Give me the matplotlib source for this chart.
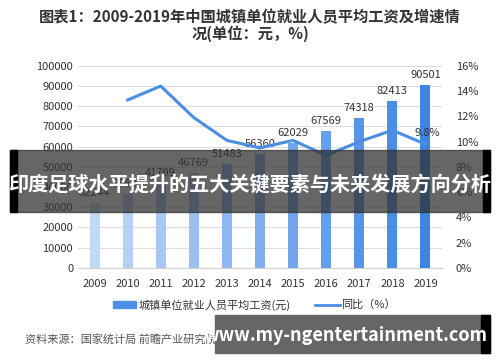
import numpy as np
import matplotlib.pyplot as plt
from matplotlib.patches import Rectangle

plt.rcParams['font.family'] = ['Noto Sans CJK SC', 'DejaVu Sans']

# 数据
anos = ['2009', '2010', '2011', '2012', '2013', '2014', '2015', '2016', '2017', '2018', '2019']
salario = [32244, 36539, 41799, 46769, 51483, 56360, 62029, 67569, 74318, 82413, 90501]
crescimento = [np.nan, 13.3, 14.4, 11.9, 10.1, 9.5, 10.1, 8.9, 10.0, 10.9, 9.8]

fig = plt.figure(figsize=(5, 3.62), dpi=100)
ax = fig.add_axes([0.156, 0.26, 0.728, 0.558])
ax2 = ax.twinx()

x = np.arange(len(anos))
cor_ini = np.array([0.76, 0.85, 0.97])
cor_fim = np.array([0.24, 0.52, 0.89])
cores = [cor_ini + (cor_fim - cor_ini) * i / (len(anos) - 1) for i in range(len(anos))]

ax.bar(x, salario, width=0.3, color=cores, zorder=2)
for xi, v in zip(x, salario):
    ax.text(xi, v + 2500, str(v), ha='center', va='bottom', fontsize=8, color='#333333')

ax.set_ylim(0, 100000)
ax.set_yticks(range(0, 100001, 10000))
ax.set_xlim(-0.5, len(anos) - 0.5)
ax.set_xticks(x)
ax.set_xticklabels(anos)
ax.grid(axis='y', color='#dddddd', linewidth=0.8, zorder=0)
ax.set_axisbelow(True)
for s in ['top', 'left', 'right']:
    ax.spines[s].set_visible(False)
ax.spines['bottom'].set_color('#d0d0d0')
ax.tick_params(length=0, labelsize=8, colors='#333333')
ax.tick_params(axis='x', pad=8)

ax2.plot(x, crescimento, color='#4a8fe3', linewidth=2.2, zorder=3)
ax2.text(x[-1] + 0.05, crescimento[-1] + 0.5, '9.8%', fontsize=8, color='#333333', ha='center', va='bottom')
ax2.set_ylim(0, 16)
ax2.set_yticks(range(0, 17, 2))
ax2.set_yticklabels([f'{t}%' for t in range(0, 17, 2)])
for s in ['top', 'left', 'right', 'bottom']:
    ax2.spines[s].set_visible(False)
ax2.tick_params(length=0, labelsize=8, colors='#333333', pad=10)

# título
fig.text(0.5, 0.952, '图表1：2009-2019年中国城镇单位就业人员平均工资及增速情',
         ha='center', va='center', fontsize=11, fontweight='bold', color='#333333')
fig.text(0.5, 0.908, '况(单位：元，%)', ha='center', va='center',
         fontsize=11, fontweight='bold', color='#333333')

# legenda
fig.patches.append(Rectangle((0.226, 0.148), 0.046, 0.02, transform=fig.transFigure,
                             color='#4a8fe3'))
fig.text(0.278, 0.158, '城镇单位就业人员平均工资(元)', ha='left', va='center', fontsize=8, color='#333333')
fig.lines.append(plt.Line2D([0.63, 0.68], [0.158, 0.158], transform=fig.transFigure,
                            color='#4a8fe3', linewidth=2))
fig.text(0.682, 0.158, '同比（%）', ha='left', va='center', fontsize=8, color='#333333')

# fonte
fig.text(0.05, 0.062, '资料来源：国家统计局 前瞻产业研究院整理', ha='left', va='center',
         fontsize=8, color='#555555')
fig.text(0.75, 0.062, '@前瞻经济学人APP', ha='left', va='center', fontsize=8, color='#555555')

# faixa central
fig.patches.append(Rectangle((0.02, 0.415), 0.96, 0.17, transform=fig.transFigure,
                             color='#333333', alpha=0.75, zorder=10))
fig.patches.append(Rectangle((0.02, 0.415), 0.014, 0.17, transform=fig.transFigure,
                             color='black', zorder=11))
fig.patches.append(Rectangle((0.966, 0.415), 0.014, 0.17, transform=fig.transFigure,
                             color='black', zorder=11))
fig.text(0.5, 0.49, '印度足球水平提升的五大关键要素与未来发展方向分析', ha='center', va='center',
         fontsize=14.5, fontweight='bold', color='white', zorder=12)

# faixa inferior
fig.patches.append(Rectangle((0.43, 0.025), 0.55, 0.105, transform=fig.transFigure,
                             color='#666666', zorder=10))
fig.patches.append(Rectangle((0.962, 0.025), 0.018, 0.105, transform=fig.transFigure,
                             color='black', zorder=11))
fig.text(0.69, 0.072, 'www.my-ngentertainment.com', ha='center', va='center',
         fontsize=13, fontweight='bold', color='white', zorder=12)

fig.savefig('out.png', dpi=100)
